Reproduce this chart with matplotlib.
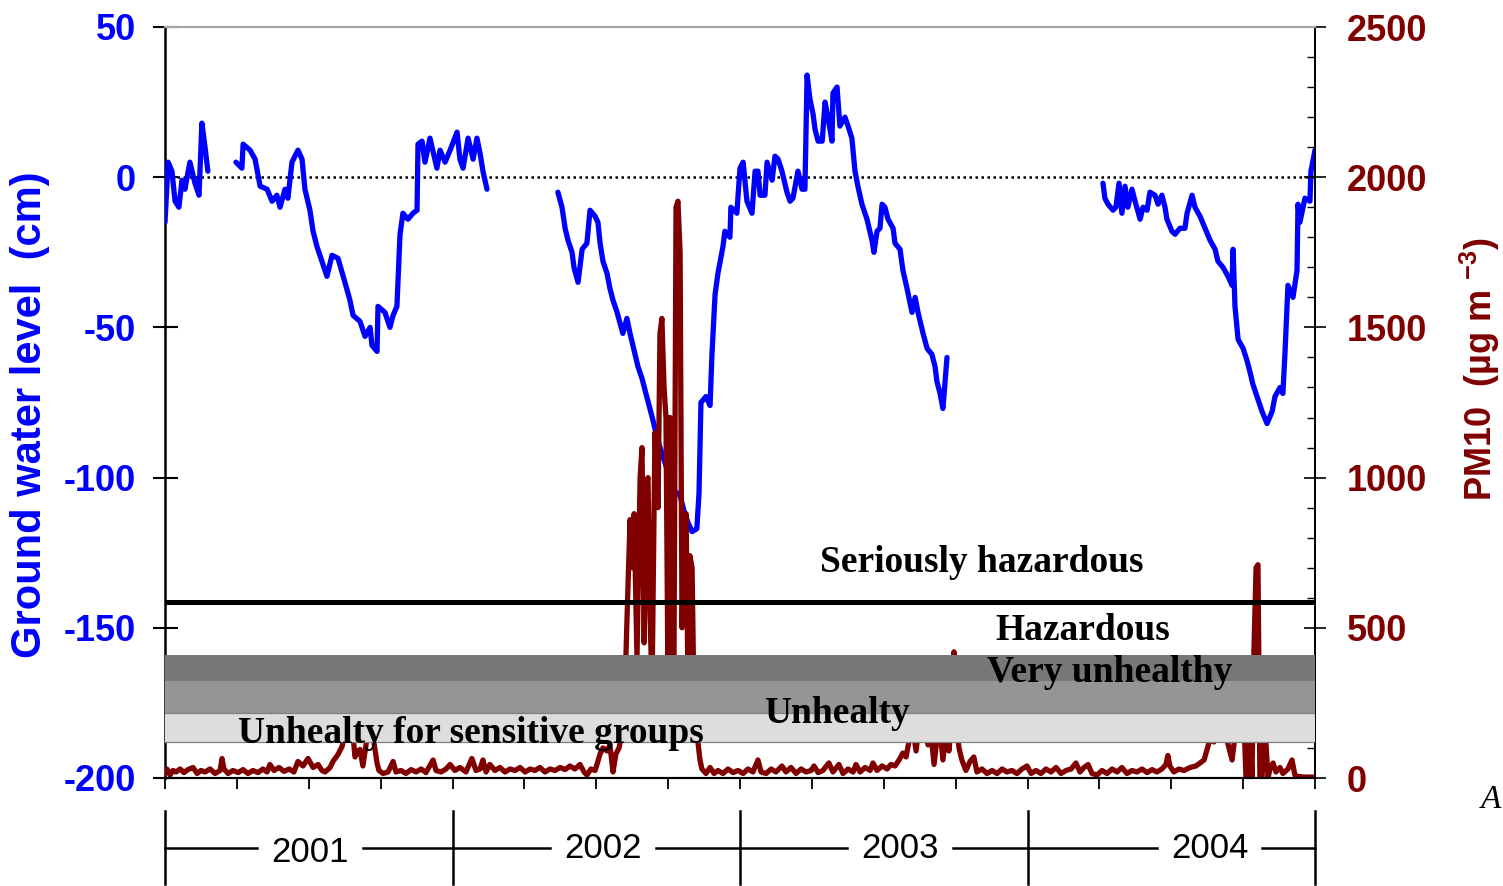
import matplotlib
matplotlib.use('Agg')
import matplotlib.pyplot as plt
import matplotlib.transforms as mtransforms
from matplotlib.ticker import MultipleLocator
import numpy as np

plt.rcParams['axes.unicode_minus'] = False
plt.rcParams['font.family'] = ['Liberation Sans', 'DejaVu Sans']
plt.rcParams['mathtext.fontset'] = 'custom'
plt.rcParams['mathtext.rm'] = 'Liberation Sans:bold'
plt.rcParams['mathtext.it'] = 'Liberation Sans:bold'
plt.rcParams['mathtext.bf'] = 'Liberation Sans:bold'

BLUE = '#0000FF'
DARKRED = '#800000'

# x axis = months since 1 Jan 2001; NaN splits the gaps in the ground water record
gw_month = [
    0.00, 0.13, 0.29, 0.42, 0.58, 0.71, 0.83, 1.04, 1.25, 1.42, 1.54, 1.67, 1.79,
    np.nan,
    2.96, 3.21, 3.26, 3.55, 3.76, 3.97, 4.26, 4.47, 4.67, 4.80, 5.01, 5.13, 5.30,
    5.55, 5.72, 5.84, 6.05, 6.18, 6.34, 6.55, 6.76, 6.97, 7.22, 7.51, 7.72, 7.85,
    8.14, 8.35, 8.56, 8.64, 8.85, 8.89, 9.18, 9.39, 9.52, 9.68, 9.81, 9.93, 10.14,
    10.35, 10.52, 10.56, 10.73, 10.85, 11.06, 11.35, 11.48, 11.69, 11.90, 12.19,
    12.31, 12.44, 12.65, 12.86, 13.02, 13.15, 13.27, 13.44,
    np.nan,
    16.40, 16.57, 16.70, 16.82, 16.99, 17.07, 17.24, 17.41, 17.61, 17.74, 17.95,
    18.07, 18.16, 18.28, 18.45, 18.57, 18.70, 18.87, 19.11, 19.28, 19.41, 19.62,
    19.74, 19.91, 20.04, 20.24, 20.37, 20.58, 20.87, 21.20, 21.50, 21.66, 21.83,
    22.00, 22.20, 22.29, 22.37, 22.58, 22.75, 22.83, 22.96, 23.08, 23.29, 23.37,
    23.58, 23.62, 23.87, 23.92, 24.00, 24.13, 24.29, 24.50, 24.63, 24.75, 24.84,
    25.04, 25.13, 25.34, 25.46, 25.59, 25.75, 25.96, 26.09, 26.21, 26.42, 26.59,
    26.71, 26.80, 26.92, 27.05, 27.13, 27.26, 27.43, 27.55, 27.67, 27.84, 27.88,
    28.05, 28.17, 28.38, 28.51, 28.67, 28.80, 28.92, 29.09, 29.30, 29.51, 29.59,
    29.72, 29.84, 29.93, 30.05, 30.18, 30.39, 30.47, 30.68, 30.80, 30.97, 31.18,
    31.31, 31.43, 31.64, 31.81, 32.01, 32.14, 32.22, 32.35, 32.47, 32.56, 32.64,
    np.nan,
    39.15, 39.23, 39.36, 39.57, 39.69, 39.82, 39.94, 40.07, 40.19, 40.36, 40.49,
    40.70, 40.82, 40.99, 41.11, 41.32, 41.45, 41.61, 41.74, 41.82, 42.03, 42.16,
    42.36, 42.57, 42.66, 42.87, 42.99, 43.20, 43.41, 43.62, 43.83, 43.95, 44.16,
    44.37, 44.54, 44.58, 44.66, 44.79, 45.00, 45.16, 45.29, 45.41, 45.58, 45.79,
    46.00, 46.21, 46.33, 46.54, 46.66, 46.75, 46.87, 47.08, 47.25, 47.29, 47.37,
    47.58, 47.79, 47.83, 48.00,
]
gw_level = [
    -15, 5, 2, -8, -10, -1, -4, 5, -2, -6, 18, 10, 2,
    np.nan,
    5, 3, 11, 9, 6, -3, -4, -8, -6, -10, -4, -7, 5,
    9, 6, -4, -11, -18, -23, -28, -33, -26, -27, -35, -41, -46,
    -48, -53, -50, -56, -58, -43, -45, -50, -46, -43, -19, -12, -14,
    -12, -11, 11, 12, 5, 13, 3, 9, 5, 9, 15,
    6, 3, 13, 6, 13, 8, 2, -4,
    np.nan,
    -5, -10, -17, -21, -25, -30, -35, -24, -22, -11, -13,
    -15, -22, -28, -32, -37, -41, -45, -52, -47, -52, -59,
    -63, -67, -71, -77, -81, -88, -95, -104, -106, -111, -115,
    -118, -117, -105, -75, -73, -76, -59, -39, -32, -23, -18,
    -20, -10, -12, -6, 3, 5, -8, -12, 2, 2, -6,
    -6, 5, -1, 7, 6, 2, -5, -8, -7, 2, -4,
    -4, 34, 26, 21, 16, 12, 12, 25, 20, 12, 28,
    30, 17, 20, 17, 13, 2, -3, -9, -14, -21, -25,
    -18, -17, -9, -10, -14, -17, -22, -24, -31, -37, -45,
    -40, -45, -52, -57, -59, -63, -68, -72, -77, -68, -60,
    np.nan,
    -2, -7, -9, -11, -10, -2, -12, -3, -10, -4, -8,
    -14, -10, -11, -5, -6, -9, -6, -10, -14, -18, -19,
    -17, -17, -12, -6, -10, -13, -17, -21, -24, -28, -30,
    -33, -36, -24, -43, -54, -57, -61, -65, -69, -73, -78,
    -82, -78, -73, -70, -72, -58, -36, -40, -31, -9, -15,
    -7, -8, 2, 9,
]

pm_month = [
    0.00, 0.08, 0.21, 0.33, 0.46, 0.63, 0.79, 0.96, 1.17, 1.34, 1.50, 1.67, 1.88,
    2.09, 2.30, 2.38, 2.46, 2.63, 2.84, 3.05, 3.26, 3.46, 3.67, 3.88, 4.09, 4.26,
    4.38, 4.55, 4.76, 4.97, 5.18, 5.38, 5.55, 5.76, 5.97, 6.18, 6.39, 6.55, 6.68,
    6.89, 7.01, 7.22, 7.39, 7.51, 7.68, 7.85, 7.93, 8.06, 8.14, 8.26, 8.39, 8.47,
    8.60, 8.68, 8.85, 8.93, 9.10, 9.31, 9.52, 9.64, 9.85, 10.06, 10.27, 10.48,
    10.69, 10.89, 11.19, 11.31, 11.52, 11.73, 11.90, 12.10, 12.31, 12.56, 12.81,
    12.98, 13.15, 13.27, 13.40, 13.56, 13.77, 13.98, 14.19, 14.40, 14.61, 14.82,
    15.03, 15.24, 15.44, 15.65, 15.86, 16.07, 16.28, 16.49, 16.70, 16.90, 17.11,
    17.32, 17.49, 17.61, 17.78, 17.95, 18.03, 18.16, 18.28, 18.45, 18.57, 18.70,
    18.82, 18.95, 19.07, 19.20, 19.28, 19.41, 19.49, 19.58, 19.70, 19.83, 19.91,
    20.00, 20.08, 20.16, 20.24, 20.33, 20.45, 20.58, 20.66, 20.74, 20.83, 20.91,
    20.99, 21.08, 21.16, 21.24, 21.33, 21.41, 21.50, 21.58, 21.66, 21.75, 21.83,
    21.91, 22.00, 22.08, 22.20, 22.33, 22.41, 22.58, 22.75, 22.92, 23.08, 23.29,
    23.50, 23.71, 23.92, 24.13, 24.33, 24.54, 24.75, 24.88, 25.09, 25.30, 25.50,
    25.75, 25.92, 26.13, 26.34, 26.55, 26.76, 26.97, 27.09, 27.26, 27.46, 27.71,
    27.88, 28.13, 28.30, 28.51, 28.72, 28.84, 29.01, 29.22, 29.43, 29.55, 29.72,
    29.93, 30.14, 30.30, 30.47, 30.64, 30.80, 30.93, 31.05, 31.22, 31.35, 31.47,
    31.60, 31.72, 31.85, 31.97, 32.10, 32.22, 32.35, 32.47, 32.60, 32.72, 32.85,
    32.93, 33.01, 33.14, 33.26, 33.43, 33.60, 33.76, 33.89, 34.10, 34.31, 34.52,
    34.73, 34.94, 35.14, 35.35, 35.56, 35.77, 35.98, 36.15, 36.35, 36.56, 36.77,
    36.98, 37.19, 37.40, 37.61, 37.82, 38.02, 38.19, 38.36, 38.53, 38.69, 38.90,
    39.11, 39.32, 39.53, 39.74, 39.94, 40.15, 40.36, 40.57, 40.78, 40.99, 41.20,
    41.40, 41.61, 41.78, 41.86, 41.94, 42.11, 42.32, 42.53, 42.78, 43.03, 43.20,
    43.37, 43.53, 43.66, 43.78, 43.91, 44.03, 44.16, 44.28, 44.41, 44.54, 44.66,
    44.79, 44.91, 45.04, 45.12, 45.20, 45.29, 45.37, 45.45, 45.54, 45.62, 45.70,
    45.79, 45.87, 45.95, 46.04, 46.12, 46.25, 46.37, 46.54, 46.66, 46.87, 47.04,
    47.16, 47.29, 47.58, 48.00,
]
pm_value = [
    15, 30, 10, 25, 20, 30, 18, 28, 35, 15, 25, 20, 30,
    15, 25, 65, 30, 15, 25, 18, 28, 15, 25, 18, 30, 20,
    45, 25, 35, 22, 30, 20, 55, 40, 65, 35, 45, 25, 20,
    35, 55, 78, 105, 150, 200, 140, 70, 90, 95, 40, 110, 160,
    180, 140, 50, 25, 15, 20, 55, 20, 25, 15, 28, 20,
    30, 18, 60, 25, 20, 30, 45, 25, 35, 20, 65,
    25, 30, 60, 20, 45, 25, 35, 20, 30, 25, 35,
    20, 30, 25, 35, 20, 30, 25, 35, 28, 40, 30,
    45, 20, 10, 30, 25, 45, 80, 100, 90, 110, 20,
    80, 100, 150, 300, 520, 860, 700, 880, 400, 1000, 1100,
    450, 980, 1000, 550, 300, 1150, 900, 1480, 1530, 1300, 1200,
    350, 1200, 600, 300, 1900, 1920, 1750, 500, 800, 880, 300,
    740, 700, 250, 150, 60, 30, 15, 35, 15, 25, 15,
    30, 18, 25, 15, 30, 20, 60, 20, 15, 30, 20,
    40, 20, 35, 15, 30, 20, 25, 40, 18, 25, 50,
    20, 45, 15, 30, 20, 45, 20, 35, 25, 50, 25,
    40, 30, 45, 40, 60, 83, 70, 120, 160, 90, 180,
    130, 200, 110, 150, 45, 130, 160, 60, 150, 90, 200,
    420, 200, 100, 60, 25, 55, 70, 20, 30, 15, 25,
    15, 30, 20, 25, 15, 30, 40, 15, 25, 15, 30,
    20, 35, 15, 25, 30, 50, 20, 35, 45, 15, 10,
    25, 15, 30, 20, 35, 15, 25, 20, 30, 18, 28,
    20, 30, 45, 75, 40, 20, 30, 25, 35, 40, 50,
    60, 105, 140, 120, 160, 130, 180, 140, 100, 60, 140,
    200, 150, 180, 0, 0, 160, 0, 420, 700, 710, 0,
    0, 150, 120, 0, 30, 50, 20, 35, 15, 30, 60,
    10, 5, 3, 3,
]

# PM10 category bands (light, medium, dark) and the hazardous limit line
band_edges = [120, 218, 322, 410]
band_colors = ['#DDDDDD', '#959595', '#777777']
hazard_level = 585

category_labels = ['Unhealty for sensitive groups', 'Unhealty', 'Very unhealthy',
                   'Hazardous', 'Seriously hazardous']
category_x = [12.77, 28.05, 39.44, 38.31, 34.10]
category_y = [116, 183, 320, 459, 686]

year_edges = [0, 12, 24, 36, 48]
year_labels = ['2001', '2002', '2003', '2004']
year_label_x = [6.05, 18.28, 30.68, 43.60]

gw_ticks = [-200, -150, -100, -50, 0, 50]
pm_ticks = [0, 500, 1000, 1500, 2000, 2500]

W, H = 1503, 886
fig = plt.figure(figsize=(W / 100, H / 100), dpi=100)
ax = fig.add_axes([165 / W, (H - 778) / H, 1150 / W, 751 / H])
ax2 = ax.twinx()

# ground water level (left axis)
ax.plot(gw_month, gw_level, color=BLUE, lw=3.8, solid_joinstyle='round',
        solid_capstyle='round', zorder=3)
ax.axhline(0, color='black', lw=1.8, ls=(0, (1, 1.4)), zorder=2)
ax.set_xlim(0, 48)
ax.set_ylim(-200, 50)
ax.set_xticks(np.arange(0, 49, 3))
ax.set_yticks(gw_ticks)
ax.set_yticklabels([str(t) for t in gw_ticks], fontsize=26, fontweight='bold', color=BLUE)
ax.tick_params(axis='x', direction='out', length=8, width=1.3, labelbottom=False)
ax.tick_params(axis='y', direction='inout', length=18, width=1.5, pad=12)

# PM10 (right axis), category bands drawn over the series
ax2.plot(pm_month, pm_value, color=DARKRED, lw=3.8, solid_joinstyle='round',
         solid_capstyle='round', zorder=2)
for lo, hi, c in zip(band_edges[:-1], band_edges[1:], band_colors):
    ax2.axhspan(lo, hi, color=c, lw=0, zorder=3)
for e in band_edges[:2]:
    ax2.axhline(e, color='#808080', lw=0.9, zorder=3.5)
ax2.axhline(hazard_level, color='black', lw=3.6, zorder=4)
ax2.set_ylim(0, 2500)
ax2.set_yticks(pm_ticks)
ax2.set_yticklabels([str(t) for t in pm_ticks], fontsize=26, fontweight='bold', color=DARKRED)
ax2.yaxis.set_minor_locator(MultipleLocator(100))
ax2.tick_params(axis='y', which='major', direction='inout', length=16, width=1.2, pad=15)
ax2.tick_params(axis='y', which='minor', direction='in', length=6, width=1.0)

for lab, x, y in zip(category_labels, category_x, category_y):
    ax2.text(x, y, lab, ha='center', va='baseline', fontsize=27, fontweight='bold',
             family='Liberation Serif', color='black', zorder=6)

for a in (ax, ax2):
    a.spines['top'].set_color('#A6A6A6')
    a.spines['top'].set_linewidth(1.5)
    a.spines['bottom'].set_linewidth(1.5)
    a.spines['right'].set_linewidth(1.3)
ax2.spines['left'].set_visible(False)
ax.spines['left'].set_linewidth(1.8)

# year bar below the time axis
trans = mtransforms.blended_transform_factory(ax.transData, ax.transAxes)
row_y = (778 - 848) / 751
bar_top = (778 - 811) / 751
bar_bot = (778 - 884) / 751
gap = 2.2
for xe in year_edges:
    ax.plot([xe, xe], [bar_top, bar_bot], color='black', lw=1.8, transform=trans,
            clip_on=False)
for i, (lab, xl) in enumerate(zip(year_labels, year_label_x)):
    ax.plot([year_edges[i], xl - gap], [row_y, row_y], color='black', lw=1.8,
            transform=trans, clip_on=False)
    ax.plot([xl + gap, year_edges[i + 1]], [row_y, row_y], color='black', lw=1.8,
            transform=trans, clip_on=False)
    ly = row_y - (5 / 751 if i == 0 else 0)
    ax.text(xl, ly, lab, ha='center', va='center', fontsize=25, transform=trans,
            clip_on=False)

fig.text(30 / W, 1 - 415 / H, 'Ground water level  (cm)', rotation=90, ha='center',
         va='center', fontsize=30, fontweight='bold', color=BLUE)
fig.text(1480 / W, 1 - 369 / H, 'PM10  (µg m $^{-3}$)', rotation=90, ha='center',
         va='center', fontsize=26, fontweight='bold', color=DARKRED)
fig.text(1481 / W, 1 - 800 / H, 'A', ha='left', va='center', fontsize=24,
         fontstyle='italic', family='Liberation Serif')

fig.savefig('out.png', dpi=100)
